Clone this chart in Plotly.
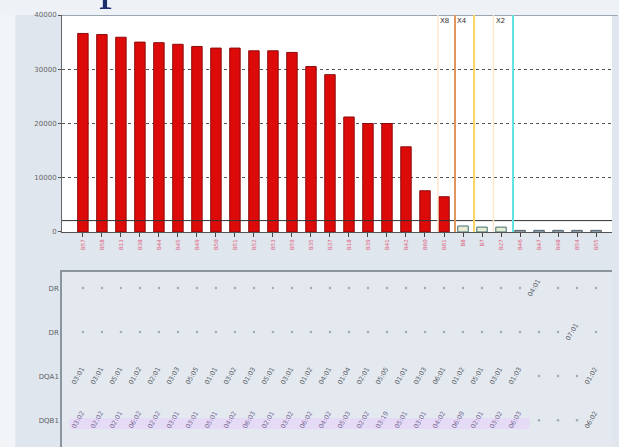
import plotly.graph_objects as go
from plotly.subplots import make_subplots

# ---------------- data ----------------
bead_labels = ["B57", "B58", "B13", "B38", "B44", "B45", "B49", "B50", "B51", "B52",
               "B53", "B59", "B35", "B37", "B18", "B39", "B41", "B42", "B60", "B61",
               "B8", "B7", "B27", "B46", "B47", "B48", "B54", "B55"]
mfi_values = [36600, 36400, 35900, 35000, 34900, 34600, 34200, 33900, 33900, 33400,
              33400, 33100, 30500, 29000, 21200, 20000, 20000, 15700, 7600, 6500,
              1100, 900, 900, 300, 300, 300, 300, 300]
n_positive = 20
n_borderline = 3

cutoff_value = 2100
cut_names = ["X8", "X4", "X2"]
cut_positions = [19.58, 20.58, 22.63]
cut_colors = ["#e0965c", "#f6d562", "#63e2e2"]
faint_positions = [18.68, 21.6]

row_names = ["DR", "DR", "DQA1", "DQB1"]
dr1 = [None] * 24 + ["04:01", None, None, None]
dr2 = [None] * 26 + ["07:01", None]
dqa1 = ["03:01", "03:01", "05:01", "01:02", "02:01", "03:03", "05:05", "01:01",
        "03:02", "01:03", "05:01", "03:01", "01:02", "04:01", "01:04", "02:01",
        "05:05", "01:01", "03:03", "06:01", "01:02", "05:01", "03:01", "01:03",
        None, None, None, "01:02"]
dqb1 = ["03:02", "02:02", "02:01", "06:02", "02:02", "03:01", "03:01", "05:01",
        "04:02", "06:03", "02:01", "03:02", "06:02", "04:02", "05:03", "02:02",
        "03:19", "05:01", "03:01", "04:02", "06:09", "02:01", "03:02", "06:03",
        None, None, None, "06:02"]
row_cells = [dr1, dr2, dqa1, dqb1]

# ---------------- figure ----------------
W, H = 619, 447
fig = make_subplots(rows=2, cols=1, shared_xaxes=False, vertical_spacing=0.0)

x_idx = list(range(len(mfi_values)))
fill_colors = (["#dd0a0a"] * n_positive + ["#e9ecd2"] * n_borderline +
               ["#d8dde2"] * (len(mfi_values) - n_positive - n_borderline))
line_colors = (["#8e0b0b"] * n_positive + ["#3e6f72"] * n_borderline +
               ["#4a5a66"] * (len(mfi_values) - n_positive - n_borderline))

fig.add_trace(go.Bar(x=x_idx, y=mfi_values, width=0.55,
                     marker=dict(color=fill_colors, line=dict(color=line_colors, width=1)),
                     showlegend=False, hoverinfo="skip"), row=1, col=1)

# dots in the lower panel
dot_x, dot_y = [], []
for r, cells in enumerate(row_cells):
    for c, v in enumerate(cells):
        if v is None:
            dot_x.append(c)
            dot_y.append(r)
fig.add_trace(go.Scatter(x=dot_x, y=dot_y, mode="markers",
                         marker=dict(size=2.5, color="#a3abb3"),
                         showlegend=False, hoverinfo="skip"), row=2, col=1)

shapes = []
annotations = []

# top-left white strips of the window
shapes.append(dict(type="rect", xref="paper", yref="paper", x0=-0.2, x1=-0.085,
                   y0=-0.1, y1=1.1, fillcolor="#f2f5f8", line_width=0, layer="below"))
shapes.append(dict(type="rect", xref="paper", yref="paper", x0=-0.2, x1=1.1,
                   y0=1.0, y1=1.1, fillcolor="#eef2f6", line_width=0, layer="below"))
# lower panel background
shapes.append(dict(type="rect", xref="x2 domain", yref="y2 domain", x0=0, x1=1,
                   y0=0, y1=1, fillcolor="#e3e9ef", line_width=0, layer="below"))
# lavender band behind DQB1 labels
shapes.append(dict(type="rect", xref="x2", yref="y2", x0=-0.7, x1=23.5,
                   y0=2.95, y1=3.2, fillcolor="#e6dbf6", line_width=0, layer="below"))

# top border of bar plot
shapes.append(dict(type="line", xref="x domain", yref="y", x0=0, x1=1.01,
                   y0=40000, y1=40000, line=dict(color="#9aa5b0", width=2)))
# cutoff line
shapes.append(dict(type="line", xref="x domain", yref="y", x0=0, x1=1,
                   y0=cutoff_value, y1=cutoff_value, line=dict(color="#333333", width=1)))
for fp in faint_positions:
    shapes.append(dict(type="line", xref="x", yref="y domain", x0=fp, x1=fp,
                       y0=0, y1=1, line=dict(color="#fce8cc", width=1.5)))
for name, pos, col in zip(cut_names, cut_positions, cut_colors):
    shapes.append(dict(type="line", xref="x", yref="y domain", x0=pos, x1=pos,
                       y0=0, y1=1, line=dict(color=col, width=2)))

label_x = [19.0, 19.95, 21.95]
for name, lx in zip(cut_names, label_x):
    annotations.append(dict(x=lx, y=38900, xref="x", yref="y", text=name,
                            showarrow=False, font=dict(size=7, color="#333333",
                                                       family="DejaVu Sans")))

# labels in the lower panel
for r, cells in enumerate(row_cells):
    colr = "#7a6b98" if row_names[r] == "DQB1" else "#5b6168"
    for c, v in enumerate(cells):
        if v is None:
            continue
        if row_names[r] == "DQB1" and c == 27:
            colr_use = "#5b6168"
        else:
            colr_use = colr
        annotations.append(dict(x=c - 0.25, y=r, xref="x2", yref="y2", text=v,
                                textangle=-60, showarrow=False,
                                font=dict(size=6.5, color=colr_use, family="DejaVu Sans")))

# cut-off title fragment at top
annotations.append(dict(x=(112 - 62) / 550, y=(447 - 11) / 432, xref="paper", yref="paper",
                        text="p", showarrow=False, yanchor="bottom", xanchor="center",
                        font=dict(size=52, color="#1c2d6e", family="Liberation Serif")))

fig.update_layout(
    width=W, height=H,
    margin=dict(l=62, r=7, t=15, b=0, autoexpand=False),
    paper_bgcolor="#dfe6ed",
    plot_bgcolor="#ffffff",
    shapes=shapes,
    annotations=annotations,
    bargap=0.45,
    showlegend=False,
    xaxis=dict(domain=[0, 1], range=[-1.1, 27.84], tickmode="array", tickvals=x_idx,
               ticktext=bead_labels, tickangle=-90,
               tickfont=dict(size=5.5, color="#e0607c", family="DejaVu Sans"),
               ticks="outside", ticklen=4, tickcolor="#444444",
               showline=True, linecolor="#555555", linewidth=1,
               showgrid=False, zeroline=False, anchor="y", automargin=False),
    yaxis=dict(domain=[0.4977, 1], range=[0, 40000], tickvals=[0, 10000, 20000, 30000, 40000],
               ticktext=["0", "10000", "20000", "30000", "40000"],
               tickfont=dict(size=7, color="#666666", family="DejaVu Sans"),
               ticks="outside", ticklen=3, tickcolor="#555555",
               showline=True, linecolor="#666666", linewidth=1,
               showgrid=True, gridcolor="#555555", griddash="dot", gridwidth=1,
               zeroline=False, anchor="x", automargin=False),
    xaxis2=dict(domain=[0, 1], range=[-1.1, 27.84], showticklabels=False, ticks="",
                showline=True, linecolor="#8a959f", linewidth=1.5, side="top",
                showgrid=False, zeroline=False, anchor="y2", automargin=False),
    yaxis2=dict(domain=[0, 0.405], range=[3.61, -0.364], tickvals=[0, 1, 2, 3],
                ticktext=row_names,
                tickfont=dict(size=7, color="#5b6168", family="DejaVu Sans"),
                ticks="", showline=True, linecolor="#8a959f", linewidth=1.5,
                showgrid=False, zeroline=False, anchor="x2", automargin=False),
)

fig.write_html("out.html", config={"displayModeBar": False},
               post_script="document.body.style.margin='0';document.body.style.padding='0';")
